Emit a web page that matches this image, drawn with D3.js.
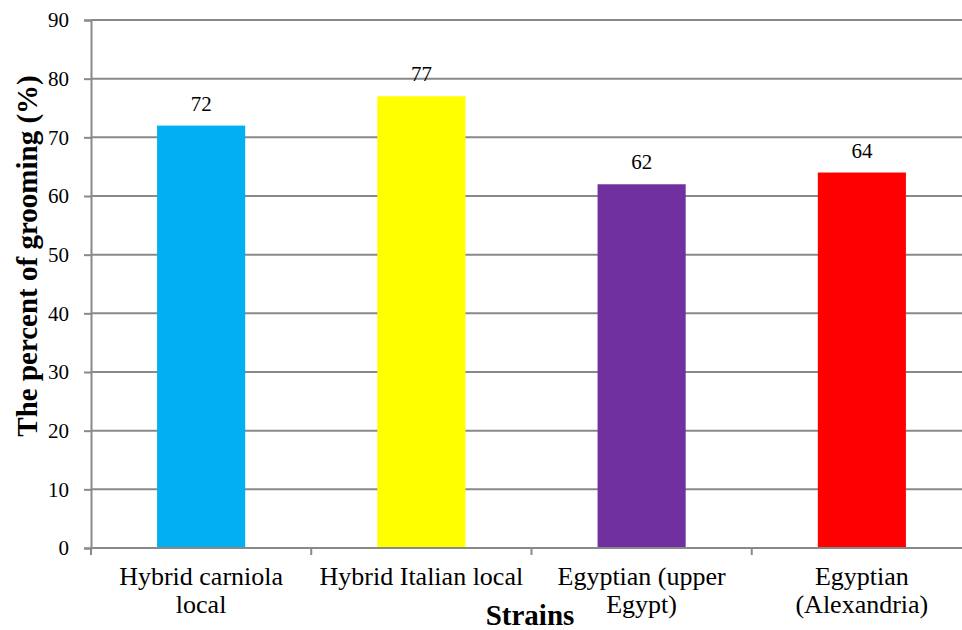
<!DOCTYPE html>
<html>
<head>
<meta charset="utf-8">
<script src="https://cdn.jsdelivr.net/npm/d3@7"></script>
<style>
  body { margin: 0; background: #fff; }
  svg text { font-family: "Liberation Serif", "Times New Roman", serif; fill: #000; }
</style>
</head>
<body>
<div id="container"></div>
<script>
const width = 962
const height = 630

const strains = ['Hybrid carniola local', 'Hybrid Italian local', 'Egyptian (upper Egypt)', 'Egyptian (Alexandria)']
const labelLines = [['Hybrid carniola', 'local'], ['Hybrid Italian local'], ['Egyptian (upper', 'Egypt)'], ['Egyptian', '(Alexandria)']]
const grooming = [72, 77, 62, 64]
const colors = ['#00B0F0', '#FFFF00', '#7030A0', '#FF0000']
const yTicks = [0, 10, 20, 30, 40, 50, 60, 70, 80, 90]

const margin = { top: 20, left: 91, bottom: 82 }
const plotRight = 972

const svg = d3.select('#container')
  .append('svg')
  .attr('width', width)
  .attr('height', height)

const x = d3.scaleBand()
  .domain(strains)
  .range([margin.left, plotRight])
  .paddingInner(0.6)
  .paddingOuter(0.3)

const y = d3.scaleLinear()
  .domain([0, 90])
  .range([height - margin.bottom, margin.top])

const gray = '#898989'

// gridlines
svg.append('g')
  .selectAll('line')
  .data(yTicks)
  .enter()
  .append('line')
  .attr('x1', margin.left)
  .attr('x2', plotRight)
  .attr('y1', d => y(d))
  .attr('y2', d => y(d))
  .attr('stroke', gray)
  .attr('stroke-width', 2)

// bars
svg.append('g')
  .selectAll('rect')
  .data(grooming)
  .enter()
  .append('rect')
  .attr('x', (d, i) => x(strains[i]))
  .attr('y', d => y(d))
  .attr('width', x.bandwidth())
  .attr('height', d => y(0) - y(d))
  .attr('fill', (d, i) => colors[i])

// value labels
svg.append('g')
  .selectAll('text')
  .data(grooming)
  .enter()
  .append('text')
  .attr('x', (d, i) => x(strains[i]) + x.bandwidth() / 2)
  .attr('y', d => y(d) - 15)
  .attr('text-anchor', 'middle')
  .style('font-size', '21px')
  .text(d => d)

// y axis
const yAxis = svg.append('g')
  .attr('transform', `translate(${margin.left},0)`)
  .call(d3.axisLeft(y).tickValues(yTicks).tickSize(7).tickPadding(15))
yAxis.attr('font-family', null).attr('font-size', null)
yAxis.select('.domain').attr('stroke', gray).attr('stroke-width', 2)
yAxis.selectAll('.tick line').attr('stroke', gray).attr('stroke-width', 2)
yAxis.selectAll('.tick text')
  .style('font-size', '21px')
  .attr('fill', '#000')

// x axis
const step = x.step()
const bounds = strains.map((s, i) => margin.left + i * step).concat([plotRight])
const xAxis = svg.append('g')
xAxis.append('line')
  .attr('x1', margin.left)
  .attr('x2', plotRight)
  .attr('y1', y(0))
  .attr('y2', y(0))
  .attr('stroke', gray)
  .attr('stroke-width', 2)
xAxis.selectAll('.xtick')
  .data(bounds)
  .enter()
  .append('line')
  .attr('x1', d => d)
  .attr('x2', d => d)
  .attr('y1', y(0))
  .attr('y2', y(0) + 7)
  .attr('stroke', gray)
  .attr('stroke-width', 2)

const xLabels = xAxis.selectAll('.xlabel')
  .data(strains)
  .enter()
  .append('text')
  .attr('text-anchor', 'middle')
  .style('font-size', '26px')
  .attr('y', 585)

xLabels.selectAll('tspan')
  .data((d, i) => labelLines[i].map(t => ({ t, cx: x(d) + x.bandwidth() / 2 })))
  .enter()
  .append('tspan')
  .attr('x', d => d.cx)
  .attr('dy', (d, j) => j === 0 ? 0 : 28)
  .text(d => d.t)

// axis titles
svg.append('text')
  .attr('x', 530)
  .attr('y', 625)
  .attr('text-anchor', 'middle')
  .style('font-size', '29px')
  .style('font-weight', 'bold')
  .text('Strains')

svg.append('text')
  .attr('transform', 'translate(37,256) rotate(-90)')
  .attr('text-anchor', 'middle')
  .style('font-size', '29px')
  .style('font-weight', 'bold')
  .text('The percent of grooming (%)')
</script>
</body>
</html>
